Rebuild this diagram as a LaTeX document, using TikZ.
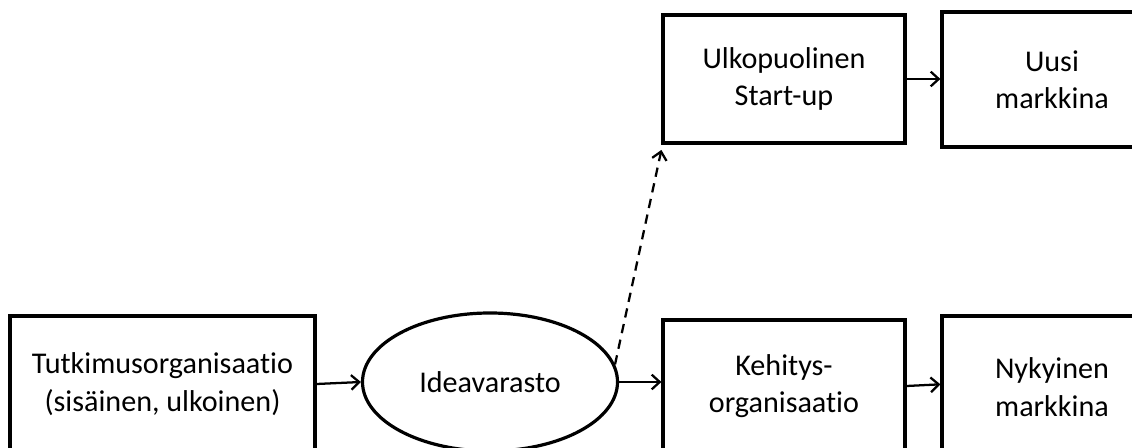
\documentclass[tikz,border=0pt]{standalone}
\usepackage{fontspec}
\setmainfont[Ligatures=NoCommon]{Carlito}
\usetikzlibrary{arrows.meta,shapes.geometric}
\begin{document}
\begin{tikzpicture}[x=0.75pt,y=-0.75pt,
  box/.style={draw,line width=2.4pt,align=center,inner sep=0pt,
    font=\fontsize{22.6}{28}\selectfont},
  oval/.style={ellipse,draw,line width=2.4pt,inner sep=0pt,
    font=\fontsize{22.6}{28}\selectfont},
  link/.style={line width=1.7pt,-{Straight Barb[length=6pt,width=11pt,line width=1.7pt]}},
  maybe/.style={link,dashed,dash pattern=on 7pt off 5pt}]
\useasboundingbox (0,0) rectangle (1132,448);
\clip (0,0) rectangle (1132,448);
\node[box,minimum width=228.75pt,minimum height=102pt] (tutk) at (162.5,384)
  {Tutkimusorganisaatio\\(sisäinen, ulkoinen)};
\node[oval,minimum width=191.25pt,minimum height=103.5pt] (idea) at (490,382) {Ideavarasto};
\node[box,minimum width=181.5pt,minimum height=96pt] (ulko) at (784,79)
  {Ulkopuolinen\\Start-up};
\node[box,minimum width=165pt,minimum height=101.25pt] (uusi) at (1052,79.5)
  {Uusi\\markkina};
\node[box,minimum width=181.5pt,minimum height=99pt] (kehi) at (784,386)
  {Kehitys-\\organisaatio};
\node[box,minimum width=165pt,minimum height=106.5pt] (nyky) at (1052,387)
  {Nykyinen\\markkina};
\draw[link] (tutk.east) -- (idea.west);
\draw[link] (idea.east) -- (kehi.west |- idea.east);
\draw[maybe] (idea.8) -- ([yshift=-4pt]ulko.south west);
\draw[link] (ulko.east) -- (ulko.east -| uusi.west);
\draw[link] (kehi.east) -- ([yshift=2pt]nyky.west);
\end{tikzpicture}
\end{document}
